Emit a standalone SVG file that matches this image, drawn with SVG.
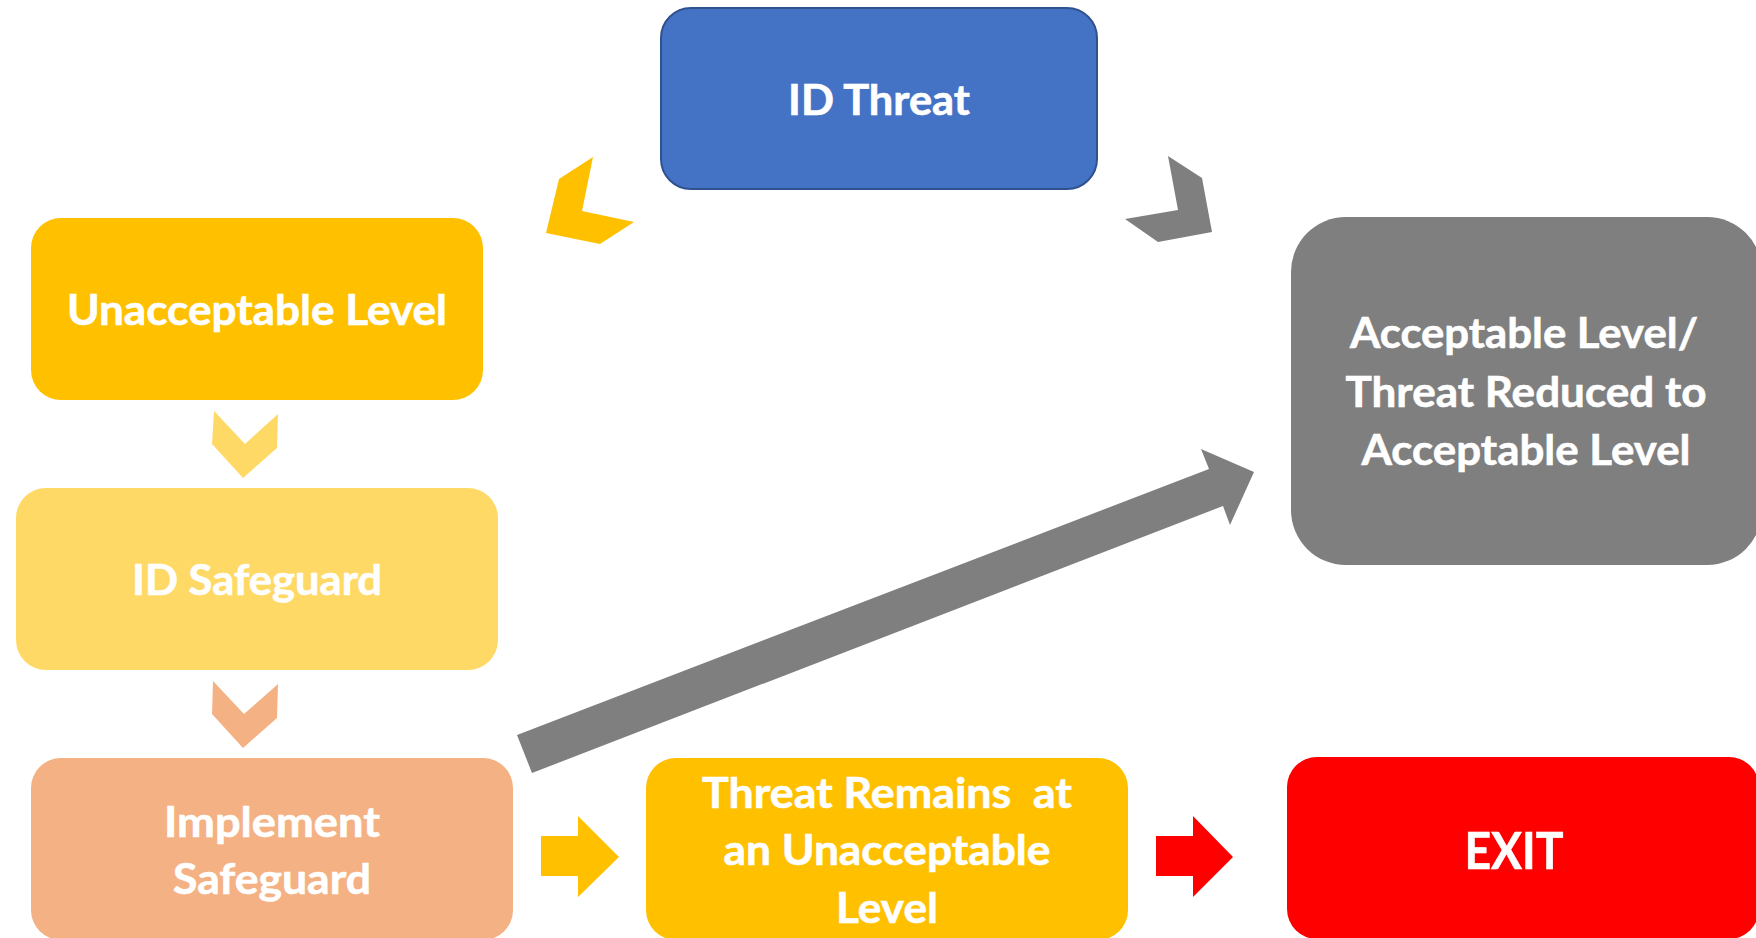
<svg xmlns="http://www.w3.org/2000/svg" width="1756" height="938" viewBox="0 0 1756 938">
  <style>
    .lbl { font-family: Lato, "Open Sans", "Liberation Sans", sans-serif; font-weight: bold; font-size: 42px; fill: #FFFFFF; stroke: #FFFFFF; stroke-width: 0.6; text-anchor: middle; white-space: pre; }
    .big { font-size: 52px; }
    .blue { fill: #4472C4; stroke: #2F528F; stroke-width: 2; }
    .gold { fill: #FFC000; }
    .pale { fill: #FFD966; }
    .peach { fill: #F4B183; }
    .grey { fill: #7F7F7F; }
    .red { fill: #FF0000; }
  </style>
  <rect width="1756" height="938" fill="#FFFFFF"/>

  <!-- connectors: chevrons and block arrows -->
  <g id="connectors">
    <polygon class="gold" points="559,179 593,157 582,211 634,222 600,244 546,233"/>
    <polygon class="grey" points="1168,156 1202,178 1212,232 1158,242 1125,219 1178,210"/>
    <polygon class="pale" points="214,411 245,444 278,414 277,448 243,478 212,444"/>
    <polygon class="peach" points="213,681 244,714 278,684 277,718 243,748 212,714"/>
    <polygon class="grey" points="517,735 1209,469 1201,449 1254,472 1230,525 1223,506 532,773"/>
    <polygon class="gold" points="541,836 578,836 578,816 619,857 578,897 578,876 541,876"/>
    <polygon class="red" points="1156,836 1193,836 1193,816 1233,857 1193,897 1193,876 1156,876"/>
  </g>

  <g id="id-threat">
    <rect class="blue" x="661" y="8" width="436" height="181" rx="30" ry="30"/>
    <text class="lbl" x="879" y="115" textLength="182" lengthAdjust="spacingAndGlyphs">ID Threat</text>
  </g>

  <g id="unacceptable-level">
    <rect class="gold" x="31" y="218" width="452" height="182" rx="30" ry="30"/>
    <text class="lbl" x="257" y="325" textLength="380" lengthAdjust="spacingAndGlyphs">Unacceptable Level</text>
  </g>

  <g id="id-safeguard">
    <rect class="pale" x="16" y="488" width="482" height="182" rx="30" ry="30"/>
    <text class="lbl" x="257" y="595" textLength="250" lengthAdjust="spacingAndGlyphs">ID Safeguard</text>
  </g>

  <g id="implement-safeguard">
    <rect class="peach" x="31" y="758" width="482" height="182" rx="30" ry="30"/>
    <text class="lbl" x="272" y="837" textLength="216" lengthAdjust="spacingAndGlyphs">Implement</text>
    <text class="lbl" x="272" y="894" textLength="198" lengthAdjust="spacingAndGlyphs">Safeguard</text>
  </g>

  <g id="threat-remains">
    <rect class="gold" x="646" y="758" width="482" height="182" rx="30" ry="30"/>
    <text class="lbl" x="887" y="808" textLength="370" lengthAdjust="spacingAndGlyphs" xml:space="preserve">Threat Remains  at</text>
    <text class="lbl" x="887" y="865" textLength="327" lengthAdjust="spacingAndGlyphs">an Unacceptable</text>
    <text class="lbl" x="887" y="923" textLength="102" lengthAdjust="spacingAndGlyphs">Level</text>
  </g>

  <g id="acceptable-level">
    <rect class="grey" x="1291" y="217" width="471" height="348" rx="55" ry="55"/>
    <text class="lbl" x="1524" y="348" textLength="348" lengthAdjust="spacingAndGlyphs">Acceptable Level/</text>
    <text class="lbl" x="1526" y="407" textLength="361" lengthAdjust="spacingAndGlyphs">Threat Reduced to</text>
    <text class="lbl" x="1526" y="465" textLength="329" lengthAdjust="spacingAndGlyphs">Acceptable Level</text>
  </g>

  <g id="exit">
    <rect class="red" x="1287" y="757" width="472" height="182" rx="30" ry="30"/>
    <text class="lbl big" x="1514" y="869" textLength="99" lengthAdjust="spacingAndGlyphs">EXIT</text>
  </g>
</svg>
